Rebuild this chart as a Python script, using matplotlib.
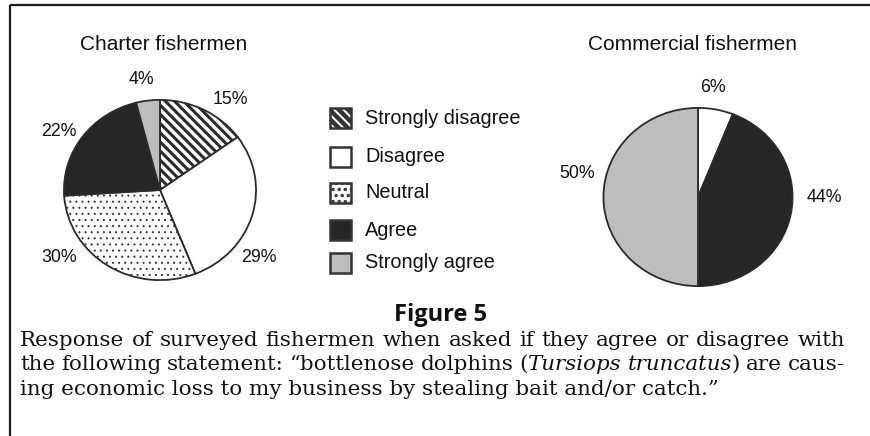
import matplotlib
matplotlib.use("Agg")
import matplotlib as mpl
import matplotlib.pyplot as plt
from matplotlib.patches import Rectangle

# ---------------- data ----------------
categories = ["Strongly disagree", "Disagree", "Neutral", "Agree", "Strongly agree"]
charter_values = [15, 29, 30, 22, 4]
commercial_values = [0, 6, 0, 44, 50]
charter_title = "Charter fishermen"
commercial_title = "Commercial fishermen"
figure_label = "Figure 5"
caption_line1 = "Response of surveyed fishermen when asked if they agree or disagree with"
caption_line2 = [[("the", "normal")], [("following", "normal")], [("statement:", "normal")],
                 [("\u201cbottlenose", "normal")], [("dolphins", "normal")],
                 [("(", "normal"), ("Tursiops", "italic")],
                 [("truncatus", "italic"), (")", "normal")],
                 [("are", "normal")], [("caus-", "normal")]]
caption_line3 = "ing economic loss to my business by stealing bait and/or catch.\u201d"

# ---------------- styles ----------------
W, H = 870, 436
DPI = 110
K = 100 / DPI          # sizes below are tuned as if at 100 dpi
face_colors = ["white", "white", "white", "#262626", "#bdbdbd"]
hatches = ["\\\\\\\\", None, "...", None, None]
hatch_lws = [2.2, 1.0, 0.6, 1.0, 1.0]
edge_color = "#2b2b2b"
sans = ["Liberation Sans", "DejaVu Sans"]
serif = ["DejaVu Serif"]

charter_geom = (160, 190, 97, 91)
commercial_geom = (698, 197, 95.5, 90)
charter_label_pos = [(230, 100), (259, 258), (59, 258), (59, 131), (141, 80)]
commercial_label_pos = [(713, 87), (824, 197), (577, 174)]

fig = plt.figure(figsize=(W / DPI, H / DPI), dpi=DPI)
ax0 = fig.add_axes([0, 0, 1, 1])
ax0.set_xlim(0, W)
ax0.set_ylim(H, 0)
ax0.axis("off")

ax0.plot([9.5, 9.5], [5, H], color="#1a1a1a", lw=1.6 * K, solid_capstyle="butt")
ax0.plot([9.5, W], [5, 5], color="#1a1a1a", lw=1.6 * K, solid_capstyle="butt")


def draw_pie(values, geom, title, label_pos, title_xy):
    cx, cy, rx, ry = geom
    ax = fig.add_axes([(cx - rx) / W, 1 - (cy + ry) / H, 2 * rx / W, 2 * ry / H])
    idx = [i for i, v in enumerate(values) if v > 0]
    vals = [values[i] for i in idx]
    wedges, _ = ax.pie(vals, startangle=90, counterclock=False, radius=1,
                       colors=[face_colors[i] for i in idx],
                       wedgeprops=dict(edgecolor=edge_color, linewidth=1.3 * K),
                       frame=False)
    for w, i in zip(wedges, idx):
        if hatches[i]:
            w.set_hatch(hatches[i])
            if hasattr(w, "set_hatch_linewidth"):
                w.set_hatch_linewidth(hatch_lws[i] * K)
    ax.set_xlim(-1.01, 1.01)
    ax.set_ylim(-1.01, 1.01)
    ax.set_aspect("auto")
    ax.axis("off")
    for v, (px, py) in zip(vals, label_pos):
        ax0.text(px, py, f"{v}%", ha="center", va="center", fontsize=12.8 * K,
                 family=sans, color="#111111")
    ax0.text(title_xy[0], title_xy[1], title, ha="center", va="center",
             fontsize=15 * K, family=sans, color="#111111")


draw_pie(charter_values, charter_geom, charter_title, charter_label_pos, (164, 45))
draw_pie(commercial_values, commercial_geom, commercial_title, commercial_label_pos, (693, 45))

leg_x, leg_w, leg_h = 330, 21, 20
leg_rows = [118, 157, 193, 230, 263]
for i, (cat, yc) in enumerate(zip(categories, leg_rows)):
    r = Rectangle((leg_x, yc - leg_h / 2), leg_w, leg_h, facecolor=face_colors[i],
                  edgecolor="#333333", lw=1.8 * K, hatch=hatches[i])
    if hatches[i] and hasattr(r, "set_hatch_linewidth"):
        r.set_hatch_linewidth((hatch_lws[i] + 1) * K)
    ax0.add_patch(r)
    ax0.text(365, yc, cat, ha="left", va="center", fontsize=14.3 * K, family=sans,
             color="#111111")

ax0.text(440, 315, figure_label, ha="center", va="center", fontsize=17 * K,
         family=["Open Sans", "DejaVu Sans"], fontweight="bold", color="#111111")

fig.canvas.draw()
rend = fig.canvas.get_renderer()


def twidth(s, size, style="normal"):
    t = ax0.text(0, 0, s, fontsize=size, family=serif, style=style)
    w = t.get_window_extent(rend).width
    t.remove()
    return w


left, right = 20, 845
base = 10
natural = twidth(caption_line1, base)
size = base * (right - left) / natural * 0.985


def justify(words, y):
    widths = [[twidth(s, size, st) for s, st in w] for w in words]
    total = sum(sum(w) for w in widths)
    gap = (right - left - total) / (len(words) - 1)
    x = left
    for w, ws in zip(words, widths):
        for (s, st), sw in zip(w, ws):
            ax0.text(x, y, s, fontsize=size, family=serif, style=st, ha="left",
                     va="baseline", color="#111111")
            x += sw
        x += gap


line1_words = [[(w, "normal")] for w in caption_line1.split(" ")]
justify(line1_words, 346)
justify(caption_line2, 370)
ax0.text(left, 395, caption_line3, fontsize=size, family=serif, ha="left",
         va="baseline", color="#111111")

fig.savefig("out.png", dpi=DPI)
